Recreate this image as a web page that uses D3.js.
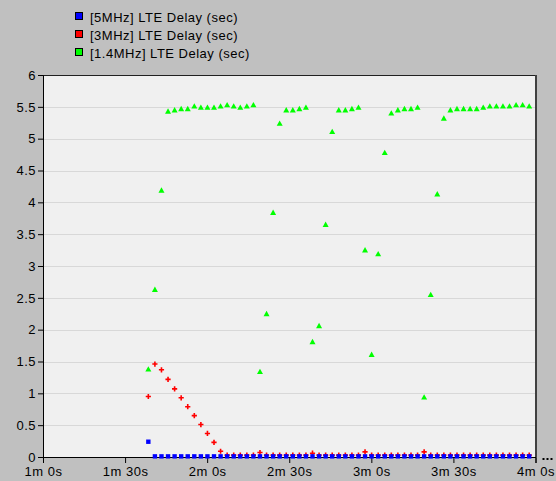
<!DOCTYPE html>
<html>
<head>
<meta charset="utf-8">
<script src="https://cdn.jsdelivr.net/npm/d3@7"></script>
<style>
  body { margin: 0; background: #c0c0c0; }
  svg { display: block; }
  text { font-family: "Liberation Sans", Arial, sans-serif; font-size: 13px; letter-spacing: 0.5px; fill: #000; }
</style>
</head>
<body>
<svg id="chart" width="556" height="481"></svg>
<script>
// Sample times in seconds since start of simulation
const sampleTimes = [
  98.5, 100.9, 103.3, 105.7, 108.1, 110.5, 112.9, 115.3, 117.7, 120.1,
  122.5, 124.9, 127.3, 129.7, 132.1, 134.5, 136.9, 139.3, 141.7, 144.1,
  146.5, 148.9, 151.3, 153.7, 156.1, 158.5, 160.9, 163.3, 165.7, 168.1,
  170.5, 172.9, 175.3, 177.7, 180.1, 182.5, 184.9, 187.3, 189.7, 192.1,
  194.5, 196.9, 199.3, 201.7, 204.1, 206.5, 208.9, 211.3, 213.7, 216.1,
  218.5, 220.9, 223.3, 225.7, 228.1, 230.5, 232.9, 235.3, 237.7
];

// LTE delay (sec) per bandwidth
const delay5MHz = [
  0.24, 0.01, 0.01, 0.01, 0.01, 0.01, 0.01, 0.01, 0.01, 0.01,
  0.01, 0.01, 0.01, 0.01, 0.01, 0.01, 0.01, 0.01, 0.01, 0.01,
  0.01, 0.01, 0.01, 0.01, 0.01, 0.01, 0.01, 0.01, 0.01, 0.01,
  0.01, 0.01, 0.01, 0.01, 0.01, 0.01, 0.01, 0.01, 0.01, 0.01,
  0.01, 0.01, 0.01, 0.01, 0.01, 0.01, 0.01, 0.01, 0.01, 0.01,
  0.01, 0.01, 0.01, 0.01, 0.01, 0.01, 0.01, 0.01, 0.01
];
const delay3MHz = [
  0.95, 1.46, 1.37, 1.22, 1.07, 0.93, 0.79, 0.65, 0.51, 0.37,
  0.23, 0.09, 0.03, 0.03, 0.03, 0.03, 0.03, 0.07, 0.03, 0.03,
  0.03, 0.03, 0.03, 0.03, 0.03, 0.06, 0.03, 0.03, 0.03, 0.03,
  0.03, 0.03, 0.03, 0.08, 0.03, 0.03, 0.03, 0.03, 0.03, 0.03,
  0.03, 0.03, 0.08, 0.03, 0.03, 0.03, 0.03, 0.03, 0.03, 0.03,
  0.03, 0.03, 0.03, 0.03, 0.03, 0.03, 0.03, 0.03, 0.03
];
const delay1_4MHz = [
  1.38, 2.63, 4.19, 5.43, 5.45, 5.47, 5.47, 5.51, 5.49, 5.49,
  5.49, 5.51, 5.53, 5.51, 5.49, 5.51, 5.53, 1.34, 2.25, 3.84,
  5.24, 5.45, 5.45, 5.47, 5.49, 1.81, 2.06, 3.65, 5.11, 5.45,
  5.45, 5.47, 5.49, 3.25, 1.61, 3.19, 4.78, 5.40, 5.45, 5.47,
  5.47, 5.49, 0.94, 2.55, 4.13, 5.32, 5.45, 5.47, 5.47, 5.47,
  5.47, 5.49, 5.51, 5.51, 5.51, 5.51, 5.53, 5.53, 5.51
];

const seriesNames = ["[5MHz] LTE Delay (sec)", "[3MHz] LTE Delay (sec)", "[1.4MHz] LTE Delay (sec)"];
const seriesColors = ["#0000ff", "#ff0000", "#00ff00"];

const xTickSeconds = [60, 90, 120, 150, 180, 210, 240];
const xTickLabels = ["1m 0s", "1m 30s", "2m 0s", "2m 30s", "3m 0s", "3m 30s", "4m 0s"];
const yTickValues = [0, 0.5, 1, 1.5, 2, 2.5, 3, 3.5, 4, 4.5, 5, 5.5, 6];

const svg = d3.select("#chart");
const plot = { left: 43, right: 535.5, top: 75, bottom: 457 };

const x = d3.scaleLinear().domain([60, 240]).range([plot.left, plot.right]);
const y = d3.scaleLinear().domain([0, 6]).range([plot.bottom, plot.top]);

// plot background
svg.append("rect")
  .attr("x", plot.left).attr("y", plot.top)
  .attr("width", plot.right - plot.left).attr("height", plot.bottom - plot.top)
  .attr("fill", "#f0f0f0");

// horizontal gridlines
svg.append("g")
  .selectAll("line")
  .data(yTickValues.filter(v => v > 0 && v < 6))
  .join("line")
  .attr("x1", plot.left).attr("x2", plot.right)
  .attr("y1", d => Math.round(y(d)) + 0.5).attr("y2", d => Math.round(y(d)) + 0.5)
  .attr("stroke", "#d8d8d8").attr("stroke-width", 1);

// frame: top and right edges
svg.append("line")
  .attr("x1", plot.left).attr("x2", plot.right)
  .attr("y1", plot.top + 0.5).attr("y2", plot.top + 0.5)
  .attr("stroke", "#202020");
svg.append("line")
  .attr("x1", plot.right + 0.5).attr("x2", plot.right + 0.5)
  .attr("y1", plot.top).attr("y2", plot.bottom)
  .attr("stroke", "#404040").attr("stroke-width", 2);

// y axis
const yAxis = svg.append("g")
  .attr("transform", `translate(${plot.left},0)`)
  .call(d3.axisLeft(y).tickValues(yTickValues).tickFormat(d3.format("~g")).tickSize(5).tickPadding(2));

// x axis
const xAxis = svg.append("g")
  .attr("transform", `translate(0,${plot.bottom})`)
  .call(d3.axisBottom(x).tickValues(xTickSeconds)
    .tickFormat((d, i) => xTickLabels[i]).tickSize(6).tickPadding(4));

[yAxis, xAxis].forEach(g => {
  g.select(".domain").attr("stroke", "#000");
  g.selectAll(".tick line").attr("stroke", "#000");
  g.selectAll("text")
    .attr("fill", "#1a1a1a")
    .style("font-family", "\"Liberation Sans\", Arial, sans-serif")
    .style("font-size", "13px");
});
// extend the y axis line down to the x tick length
svg.append("line")
  .attr("x1", plot.left + 0.5).attr("x2", plot.left + 0.5)
  .attr("y1", plot.bottom).attr("y2", plot.bottom + 6)
  .attr("stroke", "#000");

// continuation marker after the last time tick
svg.append("g")
  .selectAll("rect")
  .data([0, 1, 2])
  .join("rect")
  .attr("x", d => plot.right + 7 + d * 4).attr("y", plot.bottom + 1)
  .attr("width", 2).attr("height", 2)
  .attr("fill", "#000");

// marker shapes
const trianglePath = "M0,-3L3,2.4L-3,2.4Z";
const crossPath = "M-0.8,-2.6H0.8V-0.8H2.6V0.8H0.8V2.6H-0.8V0.8H-2.6V-0.8H-0.8Z";
const squarePath = "M-2.2,-2.2H2.2V2.2H-2.2Z";

function drawSeries(values, path, color) {
  svg.append("g")
    .selectAll("path")
    .data(values.map((v, i) => [sampleTimes[i], v]))
    .join("path")
    .attr("transform", d => `translate(${x(d[0])},${y(d[1])})`)
    .attr("d", path)
    .attr("fill", color);
}

drawSeries(delay1_4MHz, trianglePath, seriesColors[2]);
drawSeries(delay3MHz, crossPath, seriesColors[1]);
drawSeries(delay5MHz, squarePath, seriesColors[0]);

// legend
const legend = svg.append("g")
  .selectAll("g")
  .data(seriesNames)
  .join("g")
  .attr("transform", (d, i) => `translate(75,${12 + i * 18})`);
legend.append("rect")
  .attr("x", 0.5).attr("y", 0.5).attr("width", 7).attr("height", 7)
  .attr("fill", (d, i) => seriesColors[i])
  .attr("stroke", "#000").attr("stroke-width", 1);
legend.append("text")
  .attr("x", 15).attr("y", 9.5)
  .text(d => d);
</script>
</body>
</html>
